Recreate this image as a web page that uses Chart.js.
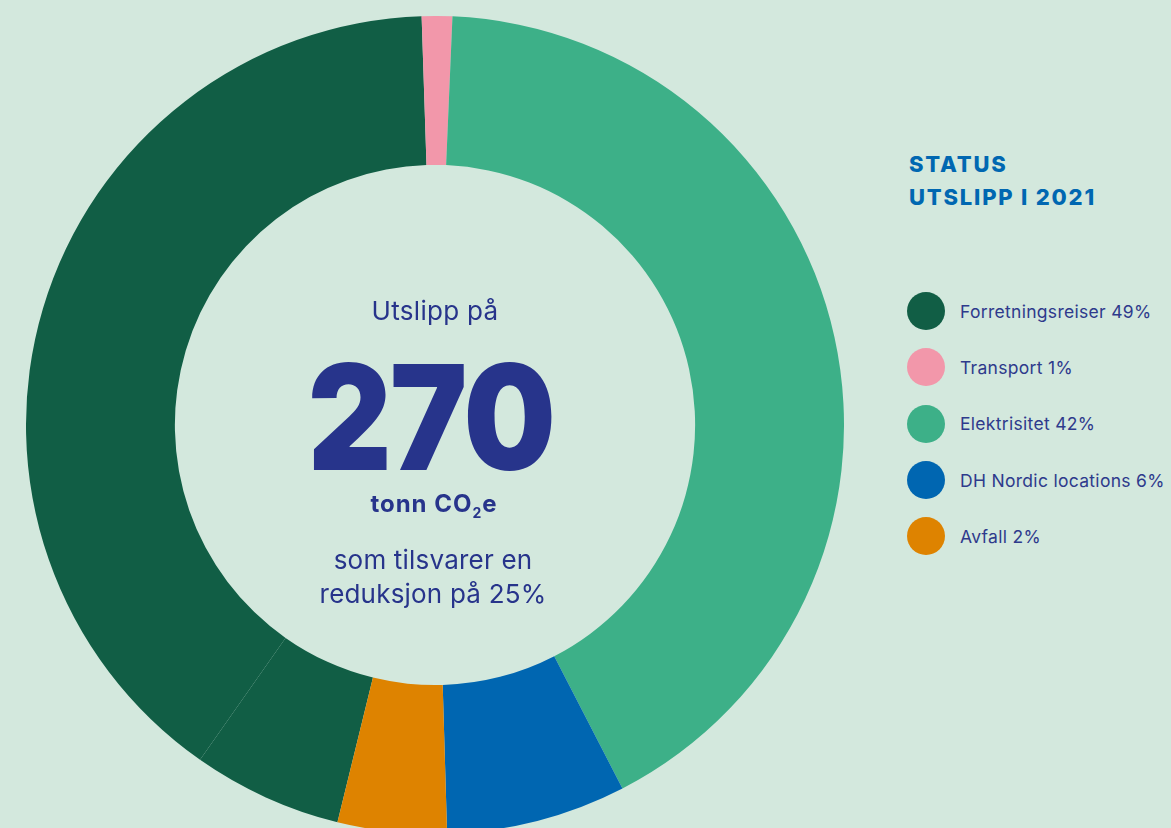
<!DOCTYPE html>
<html>
<head>
<meta charset="utf-8">
<script src="https://cdn.jsdelivr.net/npm/chart.js@4"></script>
<style>
  html, body { margin: 0; padding: 0; }
  body {
    width: 1171px; height: 828px; overflow: hidden; position: relative;
    background: #d3e8dd; font-family: Inter, "Open Sans", sans-serif;
  }
  #wrap { position: absolute; left: 26px; top: 16px; width: 818px; height: 818px; }
  .center { position: absolute; left: 235px; width: 400px; text-align: center; color: #27348b; }
  #lead { top: 295px; font-size: 26px; font-weight: 400; letter-spacing: 0.3px; }
  #big {
    top: 342px; left: 231px; font-size: 146px; font-weight: 900; letter-spacing: -2px; line-height: 150px;
    transform: scaleX(0.89); transform-origin: 50% 50%;
  }
  #unit { top: 489px; left: 234px; font-size: 24px; font-weight: 700; letter-spacing: 1px; }
  #unit sub { font-size: 14px; vertical-align: -6px; }
  #note { top: 543px; left: 233px; font-size: 26px; line-height: 34px; letter-spacing: 0.2px; }
  #title {
    position: absolute; left: 909px; top: 148px; color: #0067b1;
    font-size: 22px; font-weight: 800; letter-spacing: 1.8px; line-height: 33px;
  }
  #legend { position: absolute; left: 907px; top: 283px; }
  .item { display: flex; align-items: center; height: 56.3px; color: #2e3a8c; font-size: 17.5px; letter-spacing: 0.3px; }
  .dot { width: 38px; height: 38px; border-radius: 50%; margin-right: 15px; flex: none; }
</style>
</head>
<body>
<div id="wrap"><canvas id="donut"></canvas></div>
<div class="center" id="lead">Utslipp på</div>
<div class="center" id="big">270</div>
<div class="center" id="unit">tonn CO<sub>2</sub>e</div>
<div class="center" id="note">som tilsvarer en<br>reduksjon på 25%</div>
<div id="title">STATUS<br>UTSLIPP I 2021</div>
<div id="legend"></div>
<script>
// legend categories and the percentages printed beside them
const categories = ['Forretningsreiser', 'Transport', 'Elektrisitet', 'DH Nordic locations', 'Avfall'];
const legendShares = [49, 1, 42, 6, 2];
const categoryColors = ['#115e45', '#f297aa', '#3db088', '#0066b1', '#de8300'];

// ring slices as drawn (share of the circle, %), clockwise; business travel is drawn in two pieces
const sliceLabels = ['Forretningsreiser', 'Forretningsreiser', 'Transport', 'Elektrisitet', 'DH Nordic locations', 'Avfall'];
const sliceValues = [5.9, 39.7, 1.2, 41.7, 7.1, 4.3];

const sliceColors = sliceLabels.map(l => categoryColors[categories.indexOf(l)]);

const ctx = document.getElementById('donut').getContext('2d');
new Chart(ctx, {
    type: 'doughnut',
    data: {
        labels: sliceLabels,
        datasets: [{
            data: sliceValues,
            backgroundColor: sliceColors,
            borderWidth: 0
        }]
    },
    options: {
        responsive: true,
        maintainAspectRatio: false,
        animation: false,
        cutout: '63.6%',
        rotation: 193.8,
        layout: { padding: 0 },
        plugins: { legend: { display: false }, tooltip: { enabled: false } }
    }
});

const legend = document.getElementById('legend');
categories.forEach((c, i) => {
    const row = document.createElement('div');
    row.className = 'item';
    row.innerHTML = '<span class="dot" style="background:' + categoryColors[i] + '"></span>' + c + ' ' + legendShares[i] + '%';
    legend.appendChild(row);
});
</script>
</body>
</html>
